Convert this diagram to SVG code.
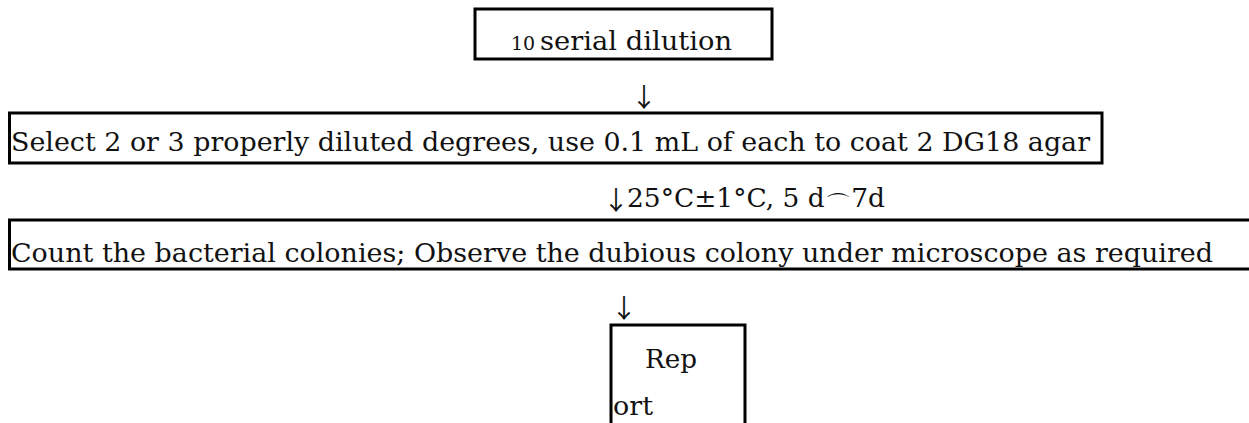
<svg xmlns="http://www.w3.org/2000/svg" width="1249" height="423" viewBox="0 0 1249 423">
<style>
.box{fill:none;stroke:#000;stroke-width:3}
.t{font-family:"DejaVu Serif","Liberation Serif",serif;font-size:26px;fill:#111}
.s{font-size:19px}
.a{font-family:"Noto Sans CJK SC","DejaVu Sans",sans-serif;font-size:26px;fill:#111}
</style>
<rect width="1249" height="423" fill="#fff"/>
<g id="node-dilution">
<rect class="box" x="475" y="9" width="297" height="50"/>
<text class="t s" x="511" y="50">10</text>
<text class="t" x="540" y="50" textLength="192" lengthAdjust="spacingAndGlyphs">serial dilution</text>
</g>
<g id="node-select">
<path class="box" d="M9.5,163 V113 H1102 V163 Z"/>
<text class="t" x="11" y="151" textLength="1079" lengthAdjust="spacingAndGlyphs">Select 2 or 3 properly diluted degrees, use 0.1 mL of each to coat 2 DG18 agar</text>
</g>
<g id="node-count">
<path class="box" d="M1249,220 H9.5 V269 H1249"/>
<text class="t" x="11" y="262" textLength="1202" lengthAdjust="spacingAndGlyphs">Count the bacterial  colonies;  Observe the dubious colony under microscope as required</text>
</g>
<g id="node-report">
<path class="box" d="M611,425 V325 H745 V425"/>
<text class="t" x="645" y="368" textLength="52" lengthAdjust="spacingAndGlyphs">Rep</text>
<text class="t" x="613" y="415" textLength="40" lengthAdjust="spacingAndGlyphs">ort</text>
</g>
<g id="connectors">
<text class="a" x="631" y="107">↓</text>
<text class="a" x="603" y="210">↓</text>
<text class="t" x="627" y="207" textLength="258" lengthAdjust="spacingAndGlyphs">25°C±1°C, 5 d<tspan dy="7">⌒</tspan><tspan dy="-7">7d</tspan></text>
<text class="a" x="611" y="318">↓</text>
</g>
</svg>
